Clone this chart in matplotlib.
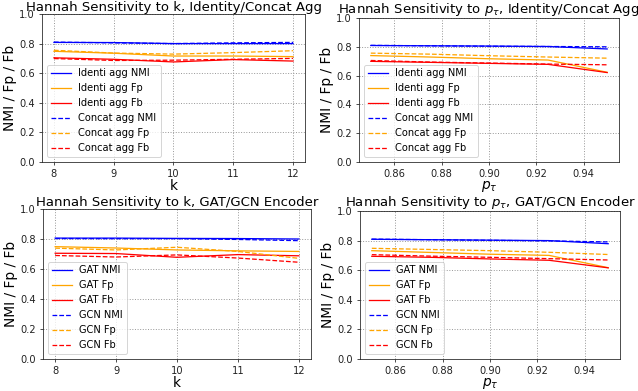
import matplotlib
matplotlib.use("Agg")
import matplotlib.pyplot as plt

k_vals = [8, 9, 10, 11, 12]
p_vals = [0.85, 0.875, 0.9, 0.925, 0.95]

# Top-left: sensitivity to k, identity vs concat aggregation
k_identi_nmi = [0.808, 0.807, 0.800, 0.800, 0.800]
k_identi_fp = [0.748, 0.735, 0.716, 0.716, 0.712]
k_identi_fb = [0.704, 0.694, 0.676, 0.692, 0.682]
k_concat_nmi = [0.810, 0.805, 0.800, 0.805, 0.808]
k_concat_fp = [0.755, 0.736, 0.729, 0.739, 0.752]
k_concat_fb = [0.699, 0.686, 0.688, 0.694, 0.700]

# Top-right: sensitivity to p_tau, identity vs concat aggregation
p_identi_nmi = [0.809, 0.807, 0.805, 0.802, 0.785]
p_identi_fp = [0.739, 0.729, 0.717, 0.708, 0.623]
p_identi_fb = [0.699, 0.692, 0.685, 0.678, 0.621]
p_concat_nmi = [0.810, 0.807, 0.804, 0.802, 0.800]
p_concat_fp = [0.756, 0.749, 0.738, 0.729, 0.721]
p_concat_fb = [0.705, 0.694, 0.687, 0.680, 0.675]

# Bottom-left: sensitivity to k, GAT vs GCN encoder
k_gat_nmi = [0.806, 0.806, 0.804, 0.803, 0.800]
k_gat_fp = [0.749, 0.740, 0.727, 0.721, 0.717]
k_gat_fb = [0.705, 0.703, 0.678, 0.696, 0.688]
k_gcn_nmi = [0.803, 0.802, 0.802, 0.797, 0.789]
k_gcn_fp = [0.739, 0.727, 0.745, 0.717, 0.671]
k_gcn_fb = [0.690, 0.680, 0.694, 0.673, 0.645]

# Bottom-right: sensitivity to p_tau, GAT vs GCN encoder
p_gat_nmi = [0.809, 0.806, 0.803, 0.800, 0.779]
p_gat_fp = [0.732, 0.720, 0.708, 0.700, 0.617]
p_gat_fb = [0.694, 0.687, 0.676, 0.667, 0.616]
p_gcn_nmi = [0.810, 0.806, 0.802, 0.798, 0.791]
p_gcn_fp = [0.748, 0.740, 0.732, 0.721, 0.706]
p_gcn_fb = [0.705, 0.695, 0.687, 0.678, 0.669]

W, H = 638, 391
DPI = 71
fig = plt.figure(figsize=(W / DPI, H / DPI), dpi=DPI)


def rect(l, r, t, b):
    return [l / W, 1 - b / H, (r - l) / W, (b - t) / H]


TICK = 10
LAB = 14
TIT = 13.4


def panel(r, x, series, labels, title, xlabel, xticks, xticklabels):
    ax = fig.add_axes(r)
    styles = [("blue", "-"), ("orange", "-"), ("red", "-"),
              ("blue", "--"), ("orange", "--"), ("red", "--")]
    for (c, ls), y, lab in zip(styles, series, labels):
        ax.plot(x, y, color=c, linestyle=ls, linewidth=1.3, label=lab)
    ax.set_ylim(0, 1.0)
    ax.set_xticks(xticks)
    ax.set_xticklabels(xticklabels)
    ax.grid(True, linestyle=":", color="#999999", linewidth=1.0)
    ax.tick_params(labelsize=TICK, colors="#222222", labelcolor="#222222")
    for s in ax.spines.values():
        s.set_color("#222222")
    ax.set_title(title, fontsize=TIT, pad=2)
    ax.set_xlabel(xlabel, fontsize=LAB, labelpad=0)
    ax.set_ylabel("NMI / Fp / Fb", fontsize=LAB, labelpad=2)
    ax.legend(loc="lower left", fontsize=TICK)
    return ax


agg_labels = ["Identi agg NMI", "Identi agg Fp", "Identi agg Fb",
              "Concat agg NMI", "Concat agg Fp", "Concat agg Fb"]
enc_labels = ["GAT NMI", "GAT Fp", "GAT Fb", "GCN NMI", "GCN Fp", "GCN Fb"]
k_ticks = [8, 9, 10, 11, 12]
k_ticklabels = ["8", "9", "10", "11", "12"]
p_ticks = [0.86, 0.88, 0.90, 0.92, 0.94]
p_ticklabels = ["0.86", "0.88", "0.90", "0.92", "0.94"]

panel(rect(42, 305, 14, 162), k_vals,
      [k_identi_nmi, k_identi_fp, k_identi_fb, k_concat_nmi, k_concat_fp, k_concat_fb],
      agg_labels, "Hannah Sensitivity to k, Identity/Concat Agg", "k",
      k_ticks, k_ticklabels)
panel(rect(359, 619, 18, 162), p_vals,
      [p_identi_nmi, p_identi_fp, p_identi_fb, p_concat_nmi, p_concat_fp, p_concat_fb],
      agg_labels, r"Hannah Sensitivity to $p_{\tau}$, Identity/Concat Agg",
      r"$p_{\tau}$", p_ticks, p_ticklabels)
panel(rect(43, 311, 209, 359), k_vals,
      [k_gat_nmi, k_gat_fp, k_gat_fb, k_gcn_nmi, k_gcn_fp, k_gcn_fb],
      enc_labels, "Hannah Sensitivity to k, GAT/GCN Encoder", "k",
      k_ticks, k_ticklabels)
panel(rect(360, 620, 211, 359), p_vals,
      [p_gat_nmi, p_gat_fp, p_gat_fb, p_gcn_nmi, p_gcn_fp, p_gcn_fb],
      enc_labels, r"Hannah Sensitivity to $p_{\tau}$, GAT/GCN Encoder",
      r"$p_{\tau}$", p_ticks, p_ticklabels)

fig.savefig("out.png", dpi=DPI)
